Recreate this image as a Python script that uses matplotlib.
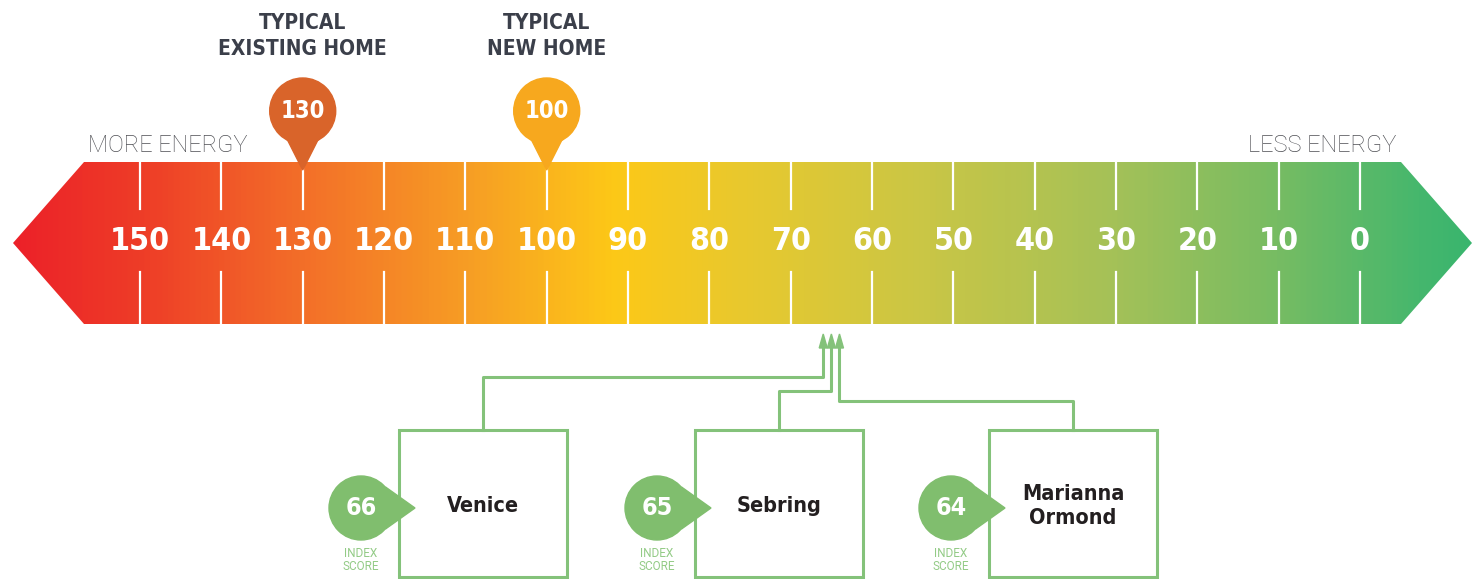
import numpy as np
import matplotlib
matplotlib.use("Agg")
import matplotlib.pyplot as plt
from matplotlib.colors import LinearSegmentedColormap
from matplotlib.patches import Polygon, Ellipse, Rectangle

# --- data ---
scale_ticks = [150, 140, 130, 120, 110, 100, 90, 80, 70, 60, 50, 40, 30, 20, 10, 0]
ref_labels = ["TYPICAL\nEXISTING HOME", "TYPICAL\nNEW HOME"]
ref_scores = [130, 100]
ref_colors = ["#D9642A", "#F7A81E"]
home_names = ["Venice", "Sebring", "Marianna\nOrmond"]
home_scores = [66, 65, 64]

NARROW = dict(family=["DejaVu Sans"], fontstretch="condensed", fontweight="bold")
LIGHT = ["Roboto", "DejaVu Sans"]
GREEN = "#84C27A"
PIN_GREEN = "#80BE6E"

UNIT = 8.133  # pixels per index point


def sx(px):  # layout pixel -> position on the score axis
    return (1360 - px) / UNIT


fig = plt.figure(figsize=(14.79, 5.79), dpi=100)
ax = fig.add_axes([0, 0, 1, 1])

# gradient arrow bar
stops = [(0.0, "#EC2129"), (0.087, "#EE3D27"), (0.198, "#F36F29"), (0.315, "#F79F24"),
         (0.411, "#FDC817"), (0.498, "#E9C92D"), (0.628, "#C9C646"), (0.757, "#A4C158"),
         (0.870, "#76BC63"), (0.967, "#45B76D"), (1.0, "#3AB56E")]
cmap = LinearSegmentedColormap.from_list("energy", stops)
grad = np.linspace(0, 1, 800).reshape(1, -1)
im = ax.imshow(grad, cmap=cmap, aspect="auto", extent=(sx(13), sx(1472), 324, 162), zorder=1)
outline = Polygon([(sx(84), 162), (sx(13), 243), (sx(84), 324), (sx(1401), 324),
                   (sx(1472), 243), (sx(1401), 162)], closed=True, fc="none", ec="none")
ax.add_patch(outline)
im.set_clip_path(outline)

for s in scale_ticks:
    ax.plot([s, s], [162, 209], color="white", lw=1.6, zorder=2)
    ax.plot([s, s], [272, 324], color="white", lw=1.6, zorder=2)
    ax.text(s, 241, str(s), ha="center", va="center", color="white", fontsize=23,
            zorder=3, **NARROW)

ax.text(sx(88), 145, "MORE ENERGY", ha="left", va="center", fontsize=17,
        color="#4E4F54", family=LIGHT, fontweight="light")
ax.text(sx(1396), 145, "LESS ENERGY", ha="right", va="center", fontsize=17,
        color="#4E4F54", family=LIGHT, fontweight="light")

# reference pins
for lab, s, c in zip(ref_labels, ref_scores, ref_colors):
    ax.add_patch(Ellipse((s, 111), 66 / UNIT, 66, color=c, zorder=4))
    ax.add_patch(Polygon([(s - 15.7 / UNIT, 139), (s + 15.7 / UNIT, 139), (s, 170)],
                         closed=True, color=c, zorder=4))
    ax.text(s, 111, str(s), ha="center", va="center", color="white", fontsize=17,
            zorder=5, **NARROW)
    ax.text(s, 36, lab, ha="center", va="center", color="#3B3F4A", fontsize=15,
            linespacing=1.35, **NARROW)

# home boxes
box_left = [399, 695, 989]
box_w = 168
elbow_y = [377, 391, 401]
for name, s, left, ey in zip(home_names, home_scores, box_left, elbow_y):
    ax.add_patch(Rectangle((sx(left + box_w), 430), box_w / UNIT, 147, fill=False,
                           ec=GREEN, lw=2.2, zorder=2))
    mid = sx(left + box_w / 2)
    ax.plot([mid, mid, s, s], [430, ey, ey, 346], color=GREEN, lw=2.2, zorder=2)
    ax.add_patch(Polygon([(s - 4 / UNIT, 348), (s + 4 / UNIT, 348), (s, 334)],
                         closed=True, color=GREEN, zorder=2))
    ax.text(mid, 506, name, ha="center", va="center", color="#231F20", fontsize=15.5,
            linespacing=1.3, **NARROW)

    # score bubble
    cx = left - 38
    ax.add_patch(Ellipse((sx(cx), 508), 64 / UNIT, 64, color=PIN_GREEN, zorder=4))
    ax.add_patch(Polygon([(sx(cx + 24.5), 487), (sx(left + 16), 508), (sx(cx + 24.5), 529)],
                         closed=True, color=PIN_GREEN, zorder=4))
    ax.text(sx(cx), 508, str(s), ha="center", va="center", color="white", fontsize=18,
            zorder=5, **NARROW)
    ax.text(sx(cx), 560, "INDEX\nSCORE", ha="center", va="center", color="#93CB86",
            fontsize=8.5, family=LIGHT, fontweight="normal", linespacing=1.05)

ax.set_xlim(sx(0), sx(1479))
ax.set_ylim(579, 0)
ax.axis("off")

fig.savefig("out.png", dpi=100)
